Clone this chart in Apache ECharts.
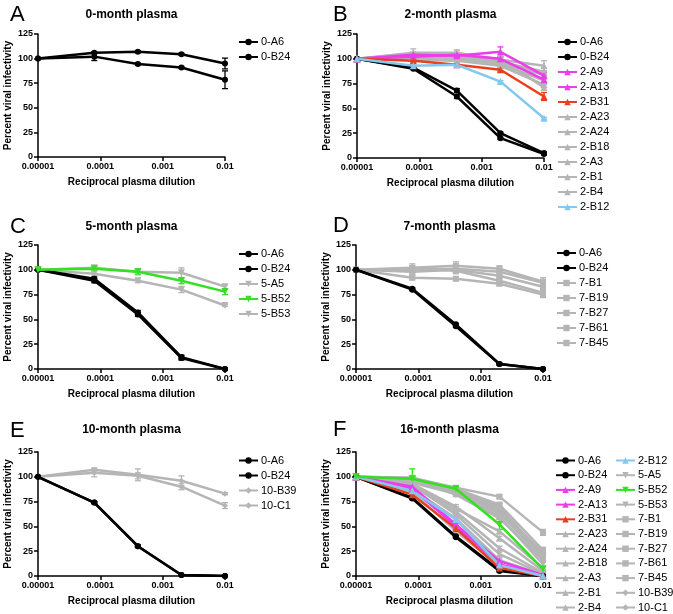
<!DOCTYPE html>
<html>
<head>
<meta charset="utf-8">
<script src="https://cdn.jsdelivr.net/npm/echarts@6/dist/echarts.min.js"></script>
<style>
html,body{margin:0;padding:0;background:#fff;}
#chart{width:673px;height:614px;}
</style>
</head>
<body>
<div id="chart"></div>
<script>
// ---------------- DATA ----------------
const xDilution = [0.00001, 0.00008, 0.0004, 0.002, 0.01];
const xTickLabels = ['0.00001', '0.0001', '0.001', '0.01'];
const yTicks = [0, 25, 50, 75, 100, 125];

const panelTitles = ['0-month plasma', '2-month plasma', '5-month plasma', '7-month plasma', '10-month plasma', '16-month plasma'];
const panelLetters = ['A', 'B', 'C', 'D', 'E', 'F'];

const panelA_names = ['0-A6', '0-B24'];
const panelA_values = [
  [100, 106, 107, 104.5, 95],
  [100, 102, 94.5, 91, 78.5]
];
const panelA_errors = [
  [0, 1, 1, 1, 5.5],
  [0, 4, 1, 1, 9]
];

const panelB_names = ['0-A6', '0-B24', '2-A9', '2-A13', '2-B31', '2-A23', '2-A24', '2-B18', '2-A3', '2-B1', '2-B4', '2-B12'];
const panelB_values = [
  [100, 91, 68, 25, 5],
  [100, 90, 62, 20, 4],
  [100, 104, 103, 107, 83],
  [100, 102, 104, 100, 79],
  [100, 98, 94, 89, 62],
  [100, 106, 106, 99, 93],
  [100, 104, 105, 97, 87],
  [100, 103, 102, 96, 84],
  [100, 101, 100, 95, 78],
  [100, 99, 98, 93, 74],
  [100, 105, 103, 100, 71],
  [100, 93, 94, 77, 40]
];
const panelB_errors = [
  [0, 1, 2, 1, 1],
  [0, 1, 2, 1, 1],
  [0, 2, 2, 5, 3],
  [0, 2, 2, 2, 3],
  [0, 1, 1, 2, 4],
  [0, 4, 3, 3, 5],
  [0, 2, 3, 3, 4],
  [0, 2, 2, 2, 3],
  [0, 2, 2, 2, 3],
  [0, 2, 2, 2, 3],
  [0, 2, 2, 3, 3],
  [0, 3, 1, 1, 1]
];

const panelC_names = ['0-A6', '0-B24', '5-A5', '5-B52', '5-B53'];
const panelC_values = [
  [100, 91, 57, 12, 0],
  [100, 89, 55, 11, 0],
  [100, 102, 98, 97, 83],
  [100, 101, 98, 89, 78],
  [100, 96, 89, 80, 64]
];
const panelC_errors = [
  [0, 2, 2, 2, 1],
  [0, 2, 2, 2, 1],
  [0, 2, 2, 5, 2],
  [0, 1, 3, 3, 3],
  [0, 2, 2, 3, 1]
];

const panelD_names = ['0-A6', '0-B24', '7-B1', '7-B19', '7-B27', '7-B61', '7-B45'];
const panelD_values = [
  [100, 81, 45, 5, 0],
  [100, 80, 43, 5, 0],
  [100, 102, 104, 101, 88],
  [100, 100, 101, 98, 87],
  [100, 98, 100, 94, 83],
  [100, 101, 99, 89, 77],
  [100, 92, 91, 86, 75]
];
const panelD_errors = [
  [0, 1, 1, 1, 0],
  [0, 1, 1, 1, 0],
  [0, 4, 4, 3, 4],
  [0, 3, 3, 3, 3],
  [0, 3, 3, 3, 3],
  [0, 3, 3, 3, 3],
  [0, 2, 2, 2, 3]
];

const panelE_names = ['0-A6', '0-B24', '10-B39', '10-C1'];
const panelE_values = [
  [100, 74, 30, 1, 0],
  [100, 74, 30, 1, 0],
  [100, 107, 102, 96, 83],
  [100, 104, 101, 90, 71]
];
const panelE_errors = [
  [0, 1, 1, 0, 0],
  [0, 1, 1, 0, 0],
  [0, 2, 6, 5, 1],
  [0, 4, 3, 3, 3]
];

const panelF_names = ['0-A6', '0-B24', '2-A9', '2-A13', '2-B31', '2-A23', '2-A24', '2-B18', '2-A3', '2-B1', '2-B4',
  '2-B12', '5-A5', '5-B52', '5-B53', '7-B1', '7-B19', '7-B27', '7-B61', '7-B45', '10-B39', '10-C1'];
const panelF_values = [
  [100, 79, 40, 6, 0],
  [100, 78, 39, 5, 0],
  [100, 90, 52, 15, 1],
  [100, 88, 50, 12, 0],
  [100, 82, 48, 8, 0],
  [100, 93, 70, 38, 5],
  [100, 90, 65, 28, 3],
  [100, 92, 62, 22, 2],
  [100, 88, 58, 16, 1],
  [100, 85, 45, 10, 1],
  [100, 91, 68, 45, 8],
  [100, 86, 57, 11, 0],
  [100, 98, 87, 70, 20],
  [100, 98, 88, 52, 7],
  [100, 94, 83, 60, 12],
  [100, 99, 89, 80, 44],
  [100, 98, 88, 72, 26],
  [100, 97, 86, 68, 22],
  [100, 96, 85, 66, 19],
  [100, 95, 84, 63, 18],
  [100, 99, 85, 64, 24],
  [100, 97, 82, 58, 16]
];
const panelF_errors = [
  [0, 1, 1, 1, 0], [0, 1, 1, 1, 0], [0, 1, 1, 1, 0], [0, 1, 1, 1, 0], [0, 1, 1, 1, 0],
  [0, 1, 2, 2, 1], [0, 1, 2, 2, 1], [0, 1, 2, 2, 1], [0, 1, 2, 2, 1], [0, 1, 2, 2, 1], [0, 1, 2, 2, 1],
  [0, 1, 1, 1, 0], [0, 2, 2, 3, 2], [0, 10, 2, 5, 3], [0, 2, 2, 2, 2],
  [0, 2, 2, 2, 3], [0, 2, 2, 2, 3], [0, 2, 2, 2, 3], [0, 2, 2, 2, 5], [0, 2, 2, 2, 3],
  [0, 2, 2, 3, 2], [0, 2, 2, 3, 2]
];

const legendF_col1 = ['0-A6', '0-B24', '2-A9', '2-A13', '2-B31', '2-A23', '2-A24', '2-B18', '2-A3', '2-B1', '2-B4'];
const legendF_col2 = ['2-B12', '5-A5', '5-B52', '5-B53', '7-B1', '7-B19', '7-B27', '7-B61', '7-B45', '10-B39', '10-C1'];

// ---------------- STYLE / LAYOUT ----------------
const FONT = '"Liberation Sans", Arial, Helvetica, sans-serif';
const GRAY = '#b5b5b5';
const specialColors = {
  '2-A9': '#ec3cec', '2-A13': '#ec3cec', '2-B31': '#e8401c', '2-B12': '#82c8ef', '5-B52': '#33e022'
};
function styleOf(name) {
  let color = GRAY, symbol = 'circle', rotate = 0, size = 6, z = 2;
  if (name.startsWith('0-')) { color = '#000'; symbol = 'circle'; size = 6; z = 3; }
  else if (name.startsWith('2-')) { symbol = 'triangle'; size = 7; }
  else if (name.startsWith('5-')) { symbol = 'triangle'; rotate = 180; size = 7; }
  else if (name.startsWith('7-')) { symbol = 'rect'; size = 6; }
  else if (name.startsWith('10-')) { symbol = 'diamond'; size = 6; }
  if (specialColors[name]) { color = specialColors[name]; z = 4; }
  return { color, symbol, rotate, size, z };
}

const panels = [
  { names: panelA_names, values: panelA_values, errors: panelA_errors, grid: { left: 38, top: 34, width: 187, height: 123 }, legends: [{ left: 238, top: 36, data: panelA_names }] },
  { names: panelB_names, values: panelB_values, errors: panelB_errors, grid: { left: 357, top: 34, width: 187, height: 124 }, legends: [{ left: 557, top: 36, data: panelB_names }] },
  { names: panelC_names, values: panelC_values, errors: panelC_errors, grid: { left: 38, top: 245, width: 187, height: 124 }, legends: [{ left: 238, top: 248, data: panelC_names }] },
  { names: panelD_names, values: panelD_values, errors: panelD_errors, grid: { left: 356, top: 245, width: 187, height: 124 }, legends: [{ left: 556, top: 247, data: panelD_names }] },
  { names: panelE_names, values: panelE_values, errors: panelE_errors, grid: { left: 38, top: 452, width: 187, height: 124 }, legends: [{ left: 238, top: 454.5, data: panelE_names }] },
  { names: panelF_names, values: panelF_values, errors: panelF_errors, grid: { left: 356, top: 452, width: 187, height: 124 }, legends: [{ left: 555, top: 454.5, data: legendF_col1, itemGap: 2.7 }, { left: 615, top: 454.5, data: legendF_col2, itemGap: 2.7 }] }
];
const titleY = [9, 9, 221, 221, 424, 424];
const letterPos = [[10, 4], [333, 4], [10, 216], [333, 215], [10, 420], [333, 419]];

const grids = [], xAxes = [], yAxes = [], series = [], titles = [], legends = [];
panels.forEach((p, i) => {
  grids.push(Object.assign({ containLabel: false }, p.grid));
  xAxes.push({
    type: 'log', logBase: 10, gridIndex: i, min: 0.00001, max: 0.01,
    name: 'Reciprocal plasma dilution', nameLocation: 'middle', nameGap: 20,
    nameTextStyle: { fontFamily: FONT, fontWeight: 'bold', fontSize: 10, color: '#000' },
    axisLine: { lineStyle: { color: '#000', width: 1.5 } },
    axisTick: { show: true, length: 4, lineStyle: { color: '#000', width: 1.5 } },
    minorTick: { show: false },
    splitLine: { show: false },
    axisLabel: {
      fontFamily: FONT, fontWeight: 'bold', fontSize: 9, color: '#000', margin: 5,
      formatter: v => xTickLabels[Math.round(Math.log10(v)) + 5]
    }
  });
  yAxes.push({
    type: 'value', gridIndex: i, min: yTicks[0], max: yTicks[yTicks.length - 1], interval: 25,
    name: 'Percent viral infectivity', nameLocation: 'middle', nameGap: 25,
    nameTextStyle: { fontFamily: FONT, fontWeight: 'bold', fontSize: 10, color: '#000' },
    axisLine: { show: true, lineStyle: { color: '#000', width: 1.5 } },
    axisTick: { show: true, length: 4, lineStyle: { color: '#000', width: 1.5 } },
    splitLine: { show: false },
    axisLabel: { fontFamily: FONT, fontWeight: 'bold', fontSize: 9, color: '#000', margin: 5 }
  });
  const cx = p.grid.left + p.grid.width / 2;
  titles.push({
    text: panelTitles[i], left: cx, top: titleY[i], textAlign: 'center', padding: 0,
    textStyle: { fontFamily: FONT, fontWeight: 'bold', fontSize: 12, color: '#000' }
  });
  titles.push({
    text: panelLetters[i], left: letterPos[i][0], top: letterPos[i][1], padding: 0,
    textStyle: { fontFamily: FONT, fontWeight: 'normal', fontSize: 22, color: '#000' }
  });
  p.legends.forEach(lg => {
    legends.push({
      orient: 'vertical', left: lg.left, top: lg.top, data: lg.data, padding: 0,
      itemWidth: 19, itemHeight: 8, itemGap: lg.itemGap !== undefined ? lg.itemGap : 3,
      selectedMode: false,
      textStyle: { fontFamily: FONT, fontSize: 11, lineHeight: 12, color: '#000', padding: [0, 0, 0, -2] }
    });
  });
  const errData = [];
  const errColors = [];
  p.names.forEach((name, j) => {
    const st = styleOf(name);
    series.push({
      type: 'line', name: name, xAxisIndex: i, yAxisIndex: i,
      data: xDilution.map((x, k) => [x, p.values[j][k]]),
      symbol: st.symbol, symbolSize: st.size, symbolRotate: st.rotate,
      showSymbol: true,
      lineStyle: { color: st.color, width: 2.5 },
      itemStyle: { color: st.color },
      emphasis: { disabled: true },
      z: st.z
    });
    errColors.push(st.color);
    p.errors[j].forEach((e, k) => {
      if (e > 0) errData.push([xDilution[k], p.values[j][k] - e, p.values[j][k] + e, j]);
    });
  });
  series.push({
    type: 'custom', name: 'err' + i, xAxisIndex: i, yAxisIndex: i,
    data: errData, encode: { x: 0, y: [1, 2] }, z: 2,
    renderItem: (params, api) => {
      const x = api.value(0);
      const top = api.coord([x, api.value(2)]);
      const bot = api.coord([x, api.value(1)]);
      const c = errColors[api.value(3)];
      const st = { stroke: c, lineWidth: 1.3 };
      const w = 3;
      return {
        type: 'group', children: [
          { type: 'line', shape: { x1: top[0], y1: top[1], x2: bot[0], y2: bot[1] }, style: st },
          { type: 'line', shape: { x1: top[0] - w, y1: top[1], x2: top[0] + w, y2: top[1] }, style: st },
          { type: 'line', shape: { x1: bot[0] - w, y1: bot[1], x2: bot[0] + w, y2: bot[1] }, style: st }
        ]
      };
    }
  });
});

const chart = echarts.init(document.getElementById('chart'), null, { renderer: 'canvas' });
chart.setOption({
  backgroundColor: '#fff',
  animation: false,
  title: titles,
  legend: legends,
  grid: grids,
  xAxis: xAxes,
  yAxis: yAxes,
  series: series
});
</script>
</body>
</html>
